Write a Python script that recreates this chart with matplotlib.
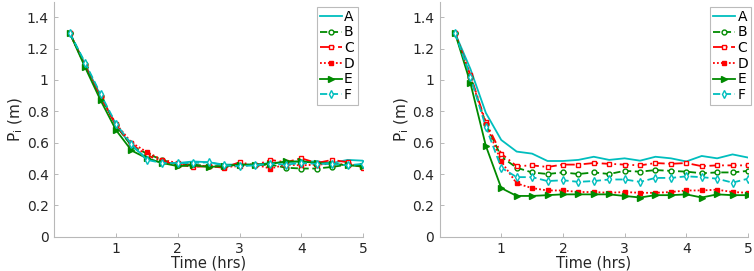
import matplotlib
matplotlib.use("Agg")
import matplotlib.pyplot as plt
import numpy as np

t = [0.25, 0.5, 0.75, 1.0, 1.25, 1.5, 1.75, 2.0, 2.25, 2.5, 2.75, 3.0, 3.25, 3.5, 3.75, 4.0, 4.25, 4.5, 4.75, 5.0]
labels = ["A", "B", "C", "D", "E", "F"]

# left panel
left_A = [1.30, 1.10, 0.90, 0.71, 0.58, 0.50, 0.47, 0.47, 0.48, 0.475, 0.46, 0.46, 0.46, 0.47, 0.475, 0.48, 0.48, 0.47, 0.49, 0.485]
left_B = [1.30, 1.10, 0.90, 0.71, 0.58, 0.53, 0.49, 0.46, 0.46, 0.45, 0.45, 0.46, 0.455, 0.46, 0.44, 0.435, 0.435, 0.445, 0.46, 0.45]
left_C = [1.30, 1.09, 0.89, 0.71, 0.59, 0.52, 0.48, 0.46, 0.445, 0.45, 0.44, 0.475, 0.455, 0.49, 0.475, 0.50, 0.47, 0.49, 0.475, 0.44]
left_D = [1.30, 1.09, 0.89, 0.72, 0.60, 0.54, 0.49, 0.47, 0.455, 0.45, 0.445, 0.45, 0.46, 0.435, 0.46, 0.455, 0.46, 0.465, 0.46, 0.45]
left_E = [1.30, 1.08, 0.87, 0.68, 0.55, 0.50, 0.47, 0.45, 0.455, 0.445, 0.45, 0.46, 0.46, 0.465, 0.48, 0.48, 0.47, 0.465, 0.455, 0.45]
left_F = [1.30, 1.11, 0.91, 0.72, 0.59, 0.49, 0.47, 0.47, 0.47, 0.475, 0.455, 0.45, 0.455, 0.465, 0.46, 0.47, 0.465, 0.465, 0.455, 0.465]

# right panel
right_A = [1.30, 1.07, 0.79, 0.617, 0.543, 0.53, 0.483, 0.483, 0.49, 0.51, 0.49, 0.50, 0.485, 0.51, 0.50, 0.48, 0.515, 0.50, 0.525, 0.505]
right_B = [1.30, 1.02, 0.72, 0.51, 0.44, 0.41, 0.40, 0.41, 0.40, 0.41, 0.40, 0.42, 0.415, 0.425, 0.42, 0.415, 0.405, 0.41, 0.41, 0.42]
right_C = [1.30, 1.03, 0.73, 0.53, 0.45, 0.455, 0.445, 0.46, 0.46, 0.47, 0.465, 0.46, 0.455, 0.47, 0.465, 0.47, 0.45, 0.455, 0.455, 0.455]
right_D = [1.30, 1.02, 0.72, 0.48, 0.34, 0.31, 0.295, 0.295, 0.285, 0.285, 0.28, 0.285, 0.28, 0.28, 0.285, 0.295, 0.295, 0.30, 0.285, 0.28]
right_E = [1.30, 0.98, 0.58, 0.31, 0.26, 0.26, 0.265, 0.27, 0.27, 0.27, 0.27, 0.26, 0.25, 0.265, 0.265, 0.27, 0.25, 0.27, 0.265, 0.265]
right_F = [1.30, 1.02, 0.70, 0.44, 0.38, 0.38, 0.355, 0.36, 0.35, 0.355, 0.365, 0.365, 0.35, 0.375, 0.375, 0.385, 0.38, 0.37, 0.345, 0.37]

left_series = [left_A, left_B, left_C, left_D, left_E, left_F]
right_series = [right_A, right_B, right_C, right_D, right_E, right_F]

CYAN = "#00BEBE"
GREEN = "#008A00"
RED = "#FF0000"
styles = [
    dict(color=CYAN, linestyle="-", marker=None),
    dict(color=GREEN, linestyle=(0, (4, 2)), marker="o", markerfacecolor="white", markersize=3.5),
    dict(color=RED, linestyle=(0, (5, 2, 1, 2)), marker="s", markerfacecolor="white", markersize=3.2),
    dict(color=RED, linestyle=(0, (1, 1.2)), marker="s", markersize=2.2),
    dict(color=GREEN, linestyle="-", marker=">", markersize=4.5),
    dict(color=CYAN, linestyle=(0, (4, 2)), marker="d", markerfacecolor="white", markersize=4),
]

fig = plt.figure(figsize=(7.54, 2.71), dpi=100)
axL = fig.add_axes([0.0720, 0.1266, 0.4095, 0.8675])
axR = fig.add_axes([0.5830, 0.1266, 0.4090, 0.8675])

TXT = "#262626"
SPC = "#B8B8B8"
for ax, series, leg_anchor in [(axL, left_series, (357.5 / 754, 1 - 7 / 271)),
                               (axR, right_series, (751 / 754, 1 - 7 / 271))]:
    for lab, ys, st in zip(labels, series, styles):
        ax.plot(t, ys, label=lab, linewidth=1.3, markeredgewidth=1.0, **st)
    ax.set_xlim(0, 5)
    ax.set_ylim(0, 1.5)
    ax.set_xticks([1, 2, 3, 4, 5])
    ax.set_xticklabels(["1", "2", "3", "4", "5"])
    ax.set_yticks([0, 0.2, 0.4, 0.6, 0.8, 1.0, 1.2, 1.4])
    ax.set_yticklabels(["0", "0.2", "0.4", "0.6", "0.8", "1", "1.2", "1.4"])
    ax.tick_params(direction="in", length=3, width=0.7, color=SPC, labelcolor=TXT, labelsize=10, pad=4)
    for s in ["top", "right"]:
        ax.spines[s].set_visible(False)
    for s in ["left", "bottom"]:
        ax.spines[s].set_color(SPC)
        ax.spines[s].set_linewidth(0.8)
    ax.set_xlabel("Time (hrs)", fontsize=10.5, color=TXT, labelpad=-0.5)
    ax.set_ylabel(r"P$_\mathregular{i}$ (m)", fontsize=11, color=TXT, labelpad=1)
    leg = ax.legend(loc="upper right", bbox_to_anchor=leg_anchor, bbox_transform=fig.transFigure,
                    fontsize=10, frameon=True, fancybox=False, framealpha=1,
                    edgecolor="#BBBBBB", handlelength=1.6, handletextpad=0.15,
                    labelspacing=0.12, borderpad=0.2, borderaxespad=0, markerscale=1.0,
                    numpoints=1)
    leg.get_frame().set_linewidth(0.8)

fig.savefig("out.png", dpi=100)
